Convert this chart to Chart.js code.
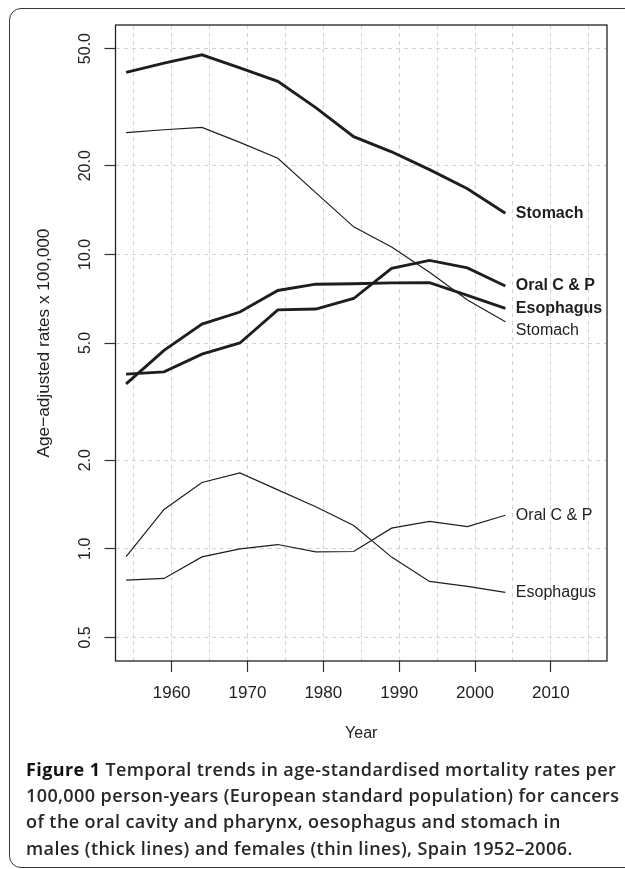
<!DOCTYPE html>
<html>
<head>
<meta charset="utf-8">
<script src="https://cdn.jsdelivr.net/npm/chart.js@4.4.1/dist/chart.umd.min.js"></script>
<style>
  body { margin:0; background:#fff; width:625px; height:869px; overflow:hidden; position:relative; }
  #frame { position:absolute; left:9px; top:8px; width:700px; height:858px; border:1.5px solid #3a3a3a; border-radius:12px; }
  #wrap { position:absolute; left:0; top:0; width:625px; height:760px; }
  #caption { position:absolute; left:26px; top:756px; font-family:"Open Sans", sans-serif; font-weight:600;
             font-size:18px; letter-spacing:0.4px; line-height:26.2px; color:#262626; white-space:nowrap; }
  #caption b { font-weight:700; color:#111; }
</style>
</head>
<body>
<div id="frame"></div>
<div id="wrap"><canvas id="trendChart" width="625" height="760"></canvas></div>
<div id="caption">
  <b>Figure 1</b> Temporal trends in age-standardised mortality rates per<br>
  100,000 person-years (European standard population) for cancers<br>
  of the oral cavity and pharynx, oesophagus and stomach in<br>
  males (thick lines) and females (thin lines), Spain 1952–2006.
</div>

<script>
// ===============================
// DATA
// ===============================

const years = [1954, 1959, 1964, 1969, 1974, 1979, 1984, 1989, 1994, 1999, 2004];

// males (thick lines)
const maleStomach   = [41.5, 44.6, 47.6, 43.0, 38.7, 31.5, 25.1, 22.3, 19.4, 16.7, 13.8];
const maleOral      = [3.92, 3.99, 4.58, 5.00, 6.48, 6.52, 7.08, 8.96, 9.54, 9.00, 7.81];
const maleEsophagus = [3.63, 4.72, 5.80, 6.37, 7.54, 7.92, 7.95, 8.00, 8.01, 7.25, 6.56];

// females (thin lines)
const femaleStomach   = [25.9, 26.5, 27.0, 24.0, 21.2, 16.2, 12.4, 10.6, 8.7, 7.0, 5.9];
const femaleOral      = [0.783, 0.793, 0.939, 1.00, 1.034, 0.977, 0.979, 1.175, 1.24, 1.19, 1.30];
const femaleEsophagus = [0.94, 1.36, 1.68, 1.81, 1.585, 1.39, 1.20, 0.937, 0.775, 0.745, 0.711];

// tick values
const yTickValues = [0.5, 1, 2, 5, 10, 20, 50];
const xGridYears = [1955, 1960, 1965, 1970, 1975, 1980, 1985, 1990, 1995, 2000, 2005, 2010, 2015];

// end-of-line labels
const maleLabels = ["Stomach", "Oral C & P", "Esophagus"];
const maleLabelValues = [13.8, 7.81, 6.56];
const femaleLabels = ["Stomach", "Oral C & P", "Esophagus"];
const femaleLabelValues = [5.5, 1.30, 0.711];


// ===============================
// HELPERS
// ===============================

const FONT = "'Liberation Sans', Arial, sans-serif";
const INK = "#1e1e1e";

function toPoints(values) {
  return years.map((yr, i) => ({ x: yr, y: values[i] }));
}

function lineSet(label, values, thick) {
  return {
    label: label,
    data: toPoints(values),
    borderColor: INK,
    borderWidth: thick ? 2.9 : 1.2,
    pointRadius: 0,
    tension: 0,
    fill: false
  };
}

// R-like 4% axis expansion (log space for y)
const xMin = 1955 - 60 * 0.04;
const xMax = 2015 + 60 * 0.04;
const yMin = 0.5 / Math.pow(10, 2 * 0.04);
const yMax = 50 * Math.pow(10, 2 * 0.04);


// ===============================
// PLUGINS
// ===============================

// plot box (all four sides)
const boxPlugin = {
  id: "boxPlugin",
  afterDraw(chart) {
    const { ctx, chartArea } = chart;
    ctx.save();
    ctx.strokeStyle = "#222";
    ctx.lineWidth = 1.3;
    ctx.strokeRect(chartArea.left, chartArea.top,
                   chartArea.right - chartArea.left, chartArea.bottom - chartArea.top);
    ctx.restore();
  }
};

// labels at the end of each line
const endLabels = {
  id: "endLabels",
  afterDatasetsDraw(chart) {
    const { ctx, scales } = chart;
    const xPos = scales.x.getPixelForValue(years[years.length - 1]) + 10.5;
    ctx.save();
    ctx.fillStyle = INK;
    ctx.textAlign = "left";
    ctx.textBaseline = "middle";

    ctx.font = "bold 16px " + FONT;
    maleLabels.forEach((txt, i) => {
      ctx.fillText(txt, xPos, scales.y.getPixelForValue(maleLabelValues[i]));
    });

    ctx.font = "16px " + FONT;
    femaleLabels.forEach((txt, i) => {
      ctx.fillText(txt, xPos, scales.y.getPixelForValue(femaleLabelValues[i]));
    });
    ctx.restore();
  }
};


// ===============================
// CHART
// ===============================

const ctx = document.getElementById("trendChart");

new Chart(ctx, {
  type: "line",
  data: {
    datasets: [
      lineSet("Stomach (males)", maleStomach, true),
      lineSet("Oral C & P (males)", maleOral, true),
      lineSet("Esophagus (males)", maleEsophagus, true),
      lineSet("Stomach (females)", femaleStomach, false),
      lineSet("Oral C & P (females)", femaleOral, false),
      lineSet("Esophagus (females)", femaleEsophagus, false)
    ]
  },
  options: {
    responsive: false,
    devicePixelRatio: 1,
    animation: false,
    layout: { padding: { top: 25, right: 18, left: 0, bottom: 0 } },
    plugins: {
      legend: { display: false },
      tooltip: { enabled: false }
    },
    scales: {
      x: {
        type: "linear",
        min: xMin,
        max: xMax,
        afterBuildTicks: s => { s.ticks = xGridYears.map(v => ({ value: v })); },
        afterFit: s => { s.height = 99; },
        ticks: {
          autoSkip: false,
          maxRotation: 0,
          padding: 11,
          color: "#222",
          font: { family: FONT, size: 17 },
          callback: v => (v % 10 === 0 ? String(v) : "")
        },
        grid: {
          color: "#d2d2d2",
          lineWidth: 1,
          tickLength: 11,
          tickWidth: 1.2,
          tickColor: c => (c.tick && c.tick.value % 10 === 0 ? "#333" : "rgba(0,0,0,0)")
        },
        border: { display: false, dash: [4, 4] },
        title: {
          display: true,
          text: "Year",
          color: "#222",
          font: { family: FONT, size: 16 },
          padding: { top: 0, bottom: 16.4 }
        }
      },
      y: {
        type: "logarithmic",
        min: yMin,
        max: yMax,
        afterBuildTicks: s => { s.ticks = yTickValues.map(v => ({ value: v })); },
        afterFit: s => { s.width = 115.5; },
        ticks: {
          autoSkip: false,
          minRotation: 90,
          maxRotation: 90,
          crossAlign: "center",
          padding: 3.6,
          color: "#222",
          font: { family: FONT, size: 16 },
          callback: v => Number(v).toFixed(1)
        },
        grid: {
          color: "#d2d2d2",
          lineWidth: 1,
          tickLength: 11,
          tickWidth: 1.2,
          tickColor: "#333"
        },
        border: { display: false, dash: [4, 4] },
        title: {
          display: true,
          text: "Age\u2212adjusted rates x 100,000",
          color: "#222",
          font: { family: FONT, size: 17.2 },
          padding: { top: 34, bottom: 0 }
        }
      }
    }
  },
  plugins: [boxPlugin, endLabels]
});
</script>
</body>
</html>
